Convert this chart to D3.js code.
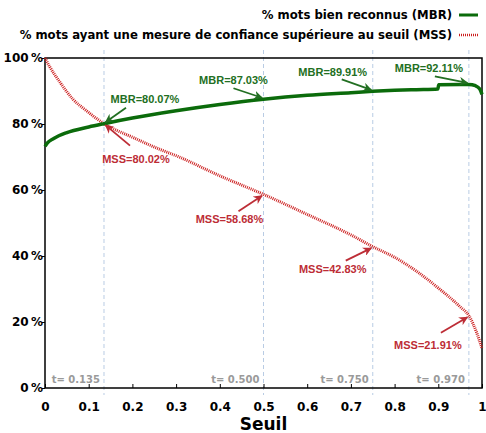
<!DOCTYPE html>
<meta charset="utf-8">
<style>
body { margin: 0; background: #fff; }
svg text { font-family: "DejaVu Sans", sans-serif; font-weight: bold; }
.ann { font-family: "Liberation Sans", sans-serif; font-size: 11px; }
.tlab { font-family: "DejaVu Sans", sans-serif; font-size: 10px; fill: #9a9a9a; }
</style>
<body>
<script src="https://cdnjs.cloudflare.com/ajax/libs/d3/7.8.5/d3.min.js"></script>
<script>

// seuil (threshold) values and the two series
var mbrT = [0, 0.005, 0.02, 0.05, 0.1, 0.135, 0.2, 0.3, 0.4, 0.5, 0.6, 0.7, 0.75, 0.8, 0.85, 0.899, 0.901, 0.95, 0.97, 0.985, 0.995, 1];
var mbrV = [73.2, 74.2, 75.6, 77.4, 79.1, 80.1, 81.8, 84.0, 85.9, 87.5, 88.7, 89.5, 89.9, 90.2, 90.4, 90.6, 91.9, 92.0, 92.0, 91.6, 90.6, 89.0];

var mssT = [0, 0.011, 0.034, 0.064, 0.096, 0.135, 0.2, 0.263, 0.3, 0.4, 0.5, 0.6, 0.7, 0.75, 0.8, 0.85, 0.9, 0.95, 0.97, 0.988, 1];
var mssV = [100, 97.3, 92.7, 87.5, 83.9, 80.1, 76.0, 72.3, 70.4, 64.3, 58.68, 52.6, 46.4, 42.83, 39.6, 35.4, 30.3, 24.6, 21.91, 16.7, 12.0];

var seuils = [0.135, 0.5, 0.75, 0.97];
var seuilLabels = ["t= 0.135", "t= 0.500", "t= 0.750", "t= 0.970"];
var mbrAt = [80.07, 87.03, 89.91, 92.11];
var mssAt = [80.02, 58.68, 42.83, 21.91];

var xTicks = [0, 0.1, 0.2, 0.3, 0.4, 0.5, 0.6, 0.7, 0.8, 0.9, 1];
var yTicks = [0, 20, 40, 60, 80, 100];

var legendLabels = ["% mots bien reconnus (MBR)", "% mots ayant une mesure de confiance supérieure au seuil (MSS)"];

var green = "#0b6b0b", greenTxt = "#226f22";
var red = "#cc2020", redTxt = "#bd2d36";

var W = 486, H = 433;
var m = {left: 45, right: 4, top: 58, bottom: 45};

var svg = d3.select("body").append("svg")
    .attr("width", W).attr("height", H);

var x = d3.scaleLinear().domain([0, 1]).range([m.left, W - m.right]);
var y = d3.scaleLinear().domain([0, 100]).range([H - m.bottom, m.top]);

var defs = svg.append("defs");
[["arrG", greenTxt], ["arrR", redTxt]].forEach(function(a) {
  defs.append("marker").attr("id", a[0])
    .attr("viewBox", "0 0 10 10").attr("refX", 9).attr("refY", 5)
    .attr("markerWidth", 5).attr("markerHeight", 5).attr("orient", "auto")
    .append("path").attr("d", "M0,0 L10,5 L0,10 L3,5 Z").attr("fill", a[1]);
});

// seuil markers
svg.selectAll("line.seuil").data(seuils).enter().append("line")
  .attr("class", "seuil")
  .attr("x1", function(d) { return x(d); }).attr("x2", function(d) { return x(d); })
  .attr("y1", m.top - 8).attr("y2", H - m.bottom + 7)
  .attr("stroke", "#b9cce4").attr("stroke-width", 1).attr("stroke-dasharray", "4,3");

svg.selectAll("text.tlab").data(seuils).enter().append("text")
  .attr("class", "tlab")
  .attr("x", function(d) { return x(d) - 4; })
  .attr("y", y(0) - 5)
  .attr("text-anchor", "end")
  .text(function(d, i) { return seuilLabels[i]; });

// axes
var xAxis = d3.axisBottom(x).tickValues(xTicks).tickSizeInner(-4).tickSizeOuter(0)
  .tickFormat(function(d) { return d === 0 ? "0" : d === 1 ? "1" : d3.format(".1f")(d); });
var gx = svg.append("g").attr("transform", "translate(0," + y(0) + ")").call(xAxis);
gx.selectAll("text").attr("dy", "1.7em").style("font-size", "12px").attr("fill", "#000");
gx.select(".domain").remove();

var yAxis = d3.axisLeft(y).tickValues(yTicks).tickSize(3).tickSizeOuter(0)
  .tickFormat(function(d) { return d + "\u2009%"; });
var gy = svg.append("g").attr("transform", "translate(" + m.left + ",0)").call(yAxis);
gy.selectAll("text").style("font-size", "12px").attr("fill", "#000").attr("x", -2);
gy.select(".domain").remove();

svg.append("rect")
  .attr("x", x(0)).attr("y", y(100))
  .attr("width", x(1) - x(0)).attr("height", y(0) - y(100))
  .attr("fill", "none").attr("stroke", "#000").attr("stroke-width", 1.5);

svg.append("text").attr("x", (x(0) + x(1)) / 2).attr("y", H - 3)
  .attr("text-anchor", "middle").style("font-size", "17px").text("Seuil");

// series
var line = d3.line().curve(d3.curveMonotoneX)
  .x(function(d) { return x(d[0]); }).y(function(d) { return y(d[1]); });

svg.append("path").datum(d3.zip(mssT, mssV)).attr("d", line)
  .attr("fill", "none").attr("stroke", red).attr("stroke-width", 3)
  .attr("stroke-dasharray", "1,1");

svg.append("path").datum(d3.zip(mbrT, mbrV)).attr("d", line)
  .attr("fill", "none").attr("stroke", green).attr("stroke-width", 3.5);

// annotations: [text dx, text dy, arrow tail dx, arrow tail dy] relative to the point
var mbrLayout = [[41, -25, 22, -16], [-30, -19, -30, -11], [-40, -19, -31, -12], [-40, -16, -34, -8]];
var mssLayout = [[32, 35, 26, 22], [-34, 25, -25, 17], [-40, 22, -27, 14], [-41, 29, -28, 17]];

function annotate(vals, layout, col, arrow, prefix, curve) {
  seuils.forEach(function(t, i) {
    var px = x(t), py = y(curve(t, i));
    var l = layout[i];
    svg.append("line")
      .attr("x1", px + l[2]).attr("y1", py + l[3])
      .attr("x2", px + (l[2] > 0 ? 1 : -1) * 1.5).attr("y2", py + (l[3] > 0 ? 1 : -1) * 1.5)
      .attr("stroke", col).attr("stroke-width", 1.8)
      .attr("marker-end", "url(#" + arrow + ")");
    svg.append("text").attr("class", "ann")
      .attr("x", px + l[0]).attr("y", py + l[1])
      .attr("dy", "0.35em").attr("text-anchor", "middle")
      .attr("fill", col)
      .text(prefix + d3.format(".2f")(vals[i]) + "%");
  });
}
function interp(ts, vs) {
  return function(t) { return d3.scaleLinear().domain(ts).range(vs)(t); };
}
var mbrF = interp(mbrT, mbrV), mssF = interp(mssT, mssV);
annotate(mbrAt, mbrLayout, greenTxt, "arrG", "MBR=", function(t) { return mbrF(t); });
annotate(mssAt, mssLayout, redTxt, "arrR", "MSS=", function(t) { return mssF(t); });

// legend
var lg = svg.append("g");
legendLabels.forEach(function(s, i) {
  var ly = 15 + i * 20;
  lg.append("text").attr("x", 452).attr("y", ly).attr("dy", "0.35em")
    .attr("text-anchor", "end").style("font-size", "11.7px").text(s);
  lg.append("line").attr("x1", 459).attr("x2", 478).attr("y1", ly).attr("y2", ly)
    .attr("stroke", i === 0 ? green : red).attr("stroke-width", i === 0 ? 3 : 2.5)
    .attr("stroke-dasharray", i === 0 ? null : "1,1");
});

</script>
